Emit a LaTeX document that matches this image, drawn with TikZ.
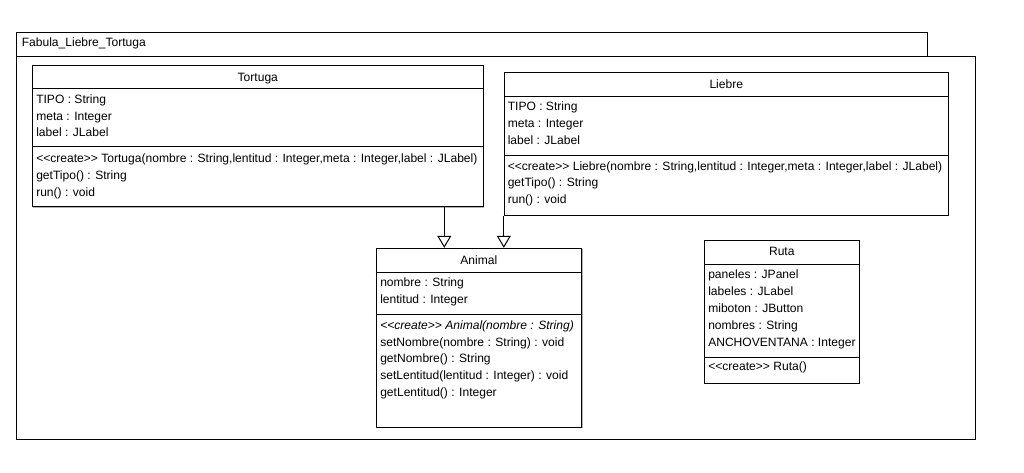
\documentclass[tikz,border=0pt]{standalone}
\usepackage{fontspec}
\setmainfont{Liberation Sans}
\usetikzlibrary{arrows.meta,fit,shadows}
\tikzset{
  umlbox/.style={draw, fill=white, inner sep=0pt, line width=0.75pt,
    drop shadow={shadow xshift=0.8pt, shadow yshift=-0.8pt, fill=black!30, opacity=1}},
  txtrow/.style={anchor=west, inner sep=0pt, text height=6.4pt, text depth=0pt,
    font=\fontsize{9.05}{11}\selectfont},
  txttitle/.style={anchor=center, inner sep=0pt, text height=6.4pt, text depth=0pt,
    font=\fontsize{9.05}{11}\selectfont},
  compline/.style={line width=0.75pt},
  gen/.style={-{Triangle[open,length=9pt,width=10.5pt]}, line width=0.75pt},
}
% stereotype with plain angle brackets (kerns keep << from becoming a guillemet)
\newcommand{\stereo}[1]{<\kern0pt<#1>\kern0pt>}
% one text line per entry: y/text
\newcommand{\classrows}[3]{%
  \foreach \yy/\txt [count=\k] in {#3}
    \node[txtrow] (#1\k) at (#2,\yy) {\txt};}
\begin{document}
\begin{tikzpicture}[x=0.75pt,y=-0.75pt]
\useasboundingbox (0,0) rectangle (1024,472);

% package frame
\node[umlbox, fit={(16,56) (975,439)}] (pkg) {};
\node[umlbox, fit={(16,32) (927,56)}] (pkgtab) {};
\node[txtrow] (pkgname) at (21.5,42.5) {Fabula\_Liebre\_Tortuga};

% Tortuga
\node[umlbox, fit={(32.3,65.7) (483.3,206.7)}] (tortuga) {};
\draw[compline] (tortuga.west |- 0,88.3) -- (tortuga.east |- 0,88.3);
\draw[compline] (tortuga.west |- 0,146.7) -- (tortuga.east |- 0,146.7);
\node[txttitle] (tortuganame) at (tortuga.center |- 0,77) {Tortuga};
\classrows{tortugaa}{36}{99/{TIPO : String}, 116/{meta : Integer}, 132.7/{label : JLabel}}
\classrows{tortugam}{36}{158.3/{\stereo{create} Tortuga(nombre : String,lentitud : Integer,meta : Integer,label : JLabel)},
  175/{getTipo() : String}, 192/{run() : void}}

% Liebre
\node[umlbox, fit={(504.3,72.3) (948.3,215)}] (liebre) {};
\draw[compline] (liebre.west |- 0,96) -- (liebre.east |- 0,96);
\draw[compline] (liebre.west |- 0,155) -- (liebre.east |- 0,155);
\node[txttitle] (liebrename) at (liebre.center |- 0,84) {Liebre};
\classrows{liebrea}{507.5}{106.7/{TIPO : String}, 123.3/{meta : Integer}, 140/{label : JLabel}}
\classrows{liebrem}{507.5}{166/{\stereo{create} Liebre(nombre : String,lentitud : Integer,meta : Integer,label : JLabel)},
  182.7/{getTipo() : String}, 199.3/{run() : void}}

% Animal
\node[umlbox, fit={(376,248.3) (581.7,427.3)}] (animal) {};
\draw[compline] (animal.west |- 0,272.3) -- (animal.east |- 0,272.3);
\draw[compline] (animal.west |- 0,314.3) -- (animal.east |- 0,314.3);
\node[txttitle] (animalname) at (animal.center |- 0,260.3) {Animal};
\classrows{animala}{380}{282.7/{nombre : String}, 299.7/{lentitud : Integer}}
\node[txtrow, font=\fontsize{9.05}{11}\selectfont\itshape] (animalm0) at (380,325.7) {\stereo{create} Animal(nombre : String)};
\classrows{animalm}{380}{342.3/{setNombre(nombre : String) : void}, 358.3/{getNombre() : String},
  375.3/{setLentitud(lentitud : Integer) : void}, 392/{getLentitud() : Integer}}

% Ruta
\node[umlbox, fit={(704.3,240.7) (859.3,383.3)}] (ruta) {};
\draw[compline] (ruta.west |- 0,264) -- (ruta.east |- 0,264);
\draw[compline] (ruta.west |- 0,357.3) -- (ruta.east |- 0,357.3);
\node[txttitle] (rutaname) at (ruta.center |- 0,251.5) {Ruta};
\classrows{rutaa}{708}{274.3/{paneles : JPanel}, 291.3/{labeles : JLabel}, 308.3/{miboton : JButton},
  325/{nombres : String}, 342/{ANCHOVENTANA : Integer}}
\classrows{rutam}{708}{366.7/{\stereo{create} Ruta()}}

% generalizations
\coordinate (tortugafoot) at (444.3,206.7);
\draw[gen] (tortugafoot) -- (tortugafoot |- animal.north);
\draw[gen] (liebre.south west) -- (liebre.south west |- animal.north);
\end{tikzpicture}
\end{document}
